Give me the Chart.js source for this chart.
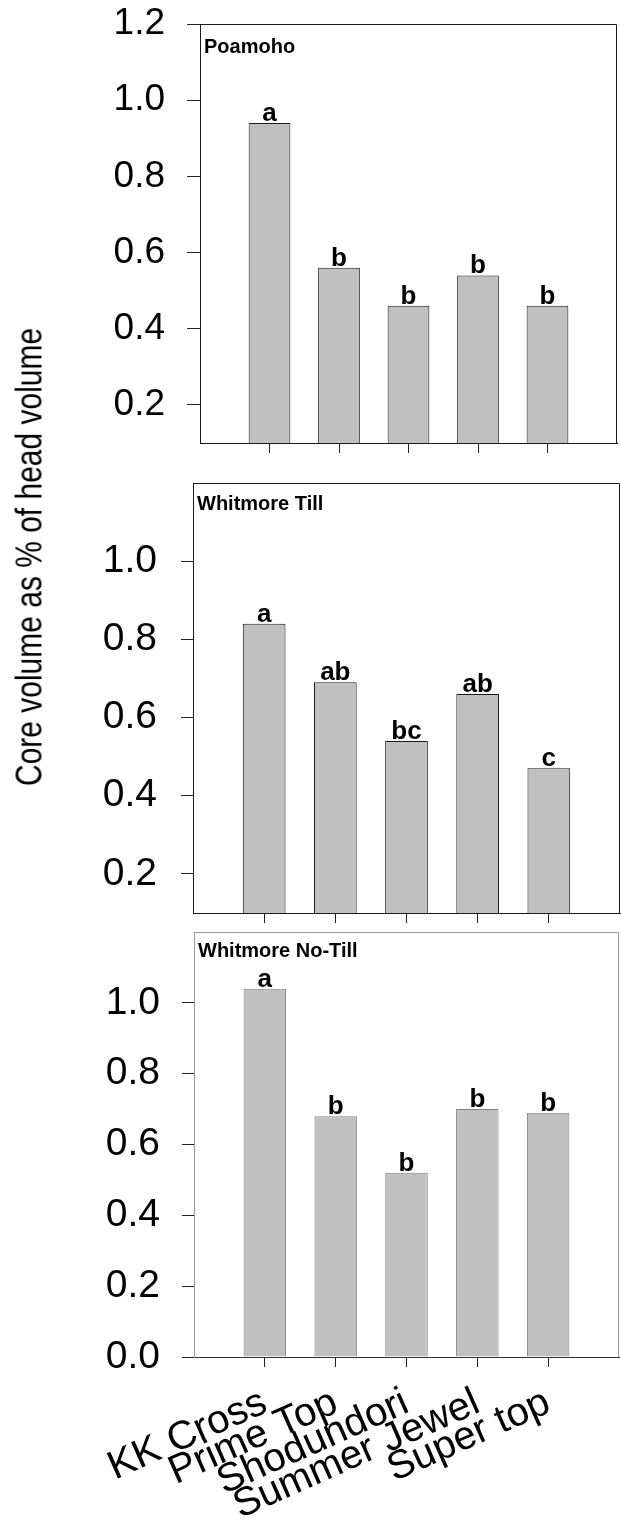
<!DOCTYPE html>
<html lang="en">
<head>
  <meta charset="UTF-8" />
  <title>Core volume as % of head volume</title>
  <script src="https://cdn.jsdelivr.net/npm/chart.js"></script>
  <style>
    body { margin: 0; background: #fff; }
    #page { position: relative; width: 621px; height: 1522px; overflow: hidden; font-family: "Liberation Sans", Arial, sans-serif; }
    #page canvas { position: absolute; left: 0; }
    #ytitle {
      position: absolute; left: 29px; top: 557px;
      font-size: 37px; color: #000; white-space: nowrap; line-height: 1;
      transform: translate(-50%, -50%) rotate(-90deg) scaleX(0.81);
    }
  </style>
</head>
<body>
  <div id="page">
    <canvas id="panel1" width="621" height="466" style="top:0px"></canvas>
    <canvas id="panel2" width="621" height="460" style="top:466px"></canvas>
    <canvas id="panel3" width="621" height="596" style="top:926px"></canvas>
    <div id="ytitle">Core volume as % of head volume</div>
  </div>

  <script>
    // Data
    const categories = ['KK Cross', 'Prime Top', 'Shodundori', 'Summer Jewel', 'Super top'];
    const sites = ['Poamoho', 'Whitmore Till', 'Whitmore No-Till'];

    const poamoho = [0.94, 0.56, 0.46, 0.54, 0.46];
    const whitmoreTill = [0.84, 0.69, 0.54, 0.66, 0.47];
    const whitmoreNoTill = [1.04, 0.68, 0.52, 0.70, 0.69];

    const lettersPoamoho = ['a', 'b', 'b', 'b', 'b'];
    const lettersTill = ['a', 'ab', 'bc', 'ab', 'c'];
    const lettersNoTill = ['a', 'b', 'b', 'b', 'b'];

    const ticksPoamoho = [0.2, 0.4, 0.6, 0.8, 1.0, 1.2];
    const ticksTill = [0.2, 0.4, 0.6, 0.8, 1.0];
    const ticksNoTill = [0.0, 0.2, 0.4, 0.6, 0.8, 1.0];

    const FONT = '"Liberation Sans", Arial, sans-serif';

    // draws top/right frame lines, the site name and the letters over the bars
    const panelDecor = {
      id: 'panelDecor',
      afterDatasetsDraw(chart, args, opts) {
        const { ctx, chartArea: a } = chart;
        ctx.save();
        ctx.strokeStyle = opts.frameColor;
        ctx.lineWidth = 1;
        ctx.beginPath();
        ctx.moveTo(a.left, a.top + 0.5);
        ctx.lineTo(a.right - 0.5, a.top + 0.5);
        ctx.lineTo(a.right - 0.5, a.bottom);
        ctx.stroke();

        ctx.fillStyle = '#000';
        ctx.font = 'bold 20px ' + FONT;
        ctx.textAlign = 'left';
        ctx.textBaseline = 'alphabetic';
        ctx.fillText(opts.name, a.left + 4, a.top + opts.nameOffset);

        ctx.font = 'bold 26px ' + FONT;
        ctx.textAlign = 'center';
        chart.getDatasetMeta(0).data.forEach((bar, i) => {
          ctx.fillText(opts.letters[i], bar.x, bar.y - 2);
        });
        ctx.restore();
      }
    };

    function makePanel(id, values, letters, yTicks, name, o) {
      new Chart(document.getElementById(id), {
        type: 'bar',
        data: {
          datasets: [{
            data: values.map((v, i) => ({ x: i + 1, y: v })),
            backgroundColor: '#c0c0c0',
            borderColor: o.barBorder,
            borderWidth: 1,
            barPercentage: 0.6,
            categoryPercentage: 1
          }]
        },
        options: {
          responsive: false,
          animation: false,
          layout: { padding: { top: o.top, right: o.right, bottom: 0, left: 0 } },
          plugins: {
            legend: { display: false },
            tooltip: { enabled: false },
            panelDecor: { frameColor: o.frameColor, name: name, nameOffset: o.nameOffset, letters: letters }
          },
          scales: {
            x: {
              type: 'linear',
              min: 0, max: 6,
              offset: false,
              afterBuildTicks: s => { s.ticks = categories.map((c, i) => ({ value: i + 1 })); },
              afterFit: s => { s.height = o.xHeight; },
              grid: { offset: false, drawOnChartArea: false, drawTicks: true, tickLength: 10, tickColor: '#222' },
              border: { display: true, color: o.xBorder, width: 1 },
              ticks: {
                display: o.showLabels,
                autoSkip: false,
                minRotation: 24, maxRotation: 24,
                padding: 12,
                color: '#000',
                font: { family: FONT, size: 40 },
                callback: v => categories[v - 1] || ''
              }
            },
            y: {
              min: o.yMin, max: 1.2,
              afterBuildTicks: s => { s.ticks = yTicks.map(v => ({ value: v })); },
              afterFit: s => { s.width = o.left; s.paddingTop = 0; s.paddingBottom = 0; },
              grid: { drawOnChartArea: false, drawTicks: true, tickLength: o.tickLen, tickColor: '#222' },
              border: { display: true, color: o.yBorder, width: 1 },
              ticks: {
                padding: o.tickPad,
                color: '#000',
                font: { family: FONT, size: o.tickFont },
                callback: v => v.toFixed(1)
              }
            }
          }
        },
        plugins: [panelDecor]
      });
    }

    makePanel('panel1', poamoho, lettersPoamoho, ticksPoamoho, sites[0], {
      top: 24, right: 4, xHeight: 23, left: 200, yMin: 0.1, tickLen: 13, tickPad: 22, tickFont: 37,
      barBorder: '#1a1a1a', frameColor: '#1a1a1a', xBorder: '#1a1a1a', yBorder: '#1a1a1a',
      nameOffset: 29, showLabels: false
    });

    makePanel('panel2', whitmoreTill, lettersTill, ticksTill, sites[1], {
      top: 17, right: 1, xHeight: 13, left: 193, yMin: 0.1, tickLen: 12, tickPad: 24, tickFont: 39,
      barBorder: '#1a1a1a', frameColor: '#1a1a1a', xBorder: '#1a1a1a', yBorder: '#1a1a1a',
      nameOffset: 27, showLabels: false
    });

    makePanel('panel3', whitmoreNoTill, lettersNoTill, ticksNoTill, sites[2], {
      top: 6, right: 2, xHeight: 165, left: 194, yMin: 0, tickLen: 12, tickPad: 22, tickFont: 39,
      barBorder: '#808080', frameColor: '#9a9a9a', xBorder: '#333', yBorder: '#9a9a9a',
      nameOffset: 25, showLabels: true
    });
  </script>
</body>
</html>
